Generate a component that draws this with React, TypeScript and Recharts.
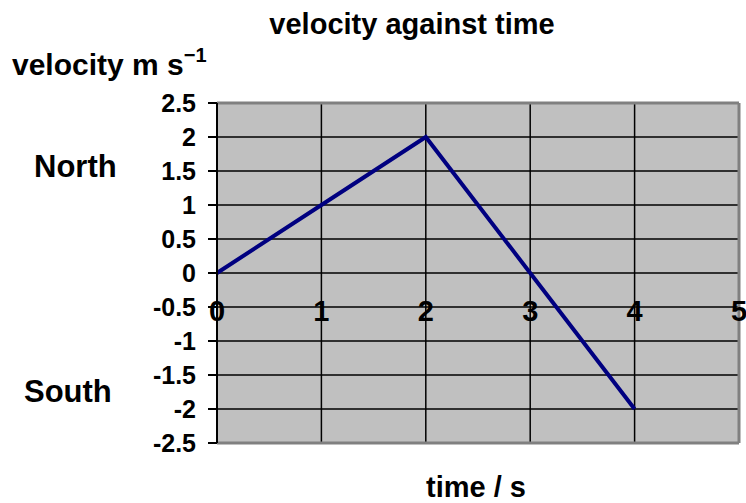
import { LineChart, Line, XAxis, YAxis, CartesianGrid, ReferenceLine } from 'recharts';

const times = [0, 1, 2, 3, 4];
const velocities = [0, 1, 2, 0, -2];
const xTicks = [0, 1, 2, 3, 4, 5];
const yTicks = [2.5, 2, 1.5, 1, 0.5, 0, -0.5, -1, -1.5, -2, -2.5];

const data = times.map((t, i) => ({ t, v: velocities[i] }));

const FONT = '"Liberation Sans", Arial, sans-serif';

// x labels sit just under the v = 0 line, not at the bottom of the plot
const XTick = ({ x, y, payload }: any) => (
  <text x={x} y={y - 122} textAnchor="middle" fontFamily={FONT} fontWeight="bold" fontSize={29} fill="#000">
    {payload.value}
  </text>
);

export default function App() {
  return (
    <div style={{ position: 'absolute', left: 0, top: 0, width: 746, height: 503, background: '#fff' }}>
      <LineChart width={746} height={503} data={data} margin={{ top: 103, right: 7, bottom: 0, left: 0 }}>
        <CartesianGrid stroke="#000" strokeWidth={1.5} fill="#c0c0c0" fillOpacity={1} />
        <XAxis
          type="number"
          dataKey="t"
          domain={[0, 5]}
          ticks={xTicks}
          height={60}
          axisLine={false}
          tickLine={false}
          tickSize={0}
          tickMargin={0}
          tick={<XTick />}
          interval={0}
        />
        <YAxis
          type="number"
          domain={[-2.5, 2.5]}
          ticks={yTicks}
          width={217}
          interval={0}
          axisLine={{ stroke: '#000', strokeWidth: 2 }}
          tickLine={{ stroke: '#000', strokeWidth: 2 }}
          tickSize={9}
          tickMargin={12}
          tick={{ fontFamily: FONT, fontWeight: 'bold', fontSize: 25, fill: '#000' }}
        />
        <ReferenceLine y={2.5} stroke="#808080" strokeWidth={3} />
        <ReferenceLine y={-2.5} stroke="#808080" strokeWidth={3} />
        <ReferenceLine x={5} stroke="#808080" strokeWidth={3} />
        <Line type="linear" dataKey="v" stroke="#000080" strokeWidth={4} dot={false} isAnimationActive={false} />
      </LineChart>
      <svg width={746} height={503} style={{ position: 'absolute', left: 0, top: 0, pointerEvents: 'none' }}>
        <g fontFamily={FONT} fontWeight="bold" fill="#000">
          <text x={412} y={34} textAnchor="middle" fontSize={29}>velocity against time</text>
          <text x={12} y={75} fontSize={30}>
            velocity m s<tspan fontSize={20} dy={-13}>−1</tspan>
          </text>
          <text x={34} y={177} fontSize={31}>North</text>
          <text x={24} y={402} fontSize={31}>South</text>
          <text x={476} y={497} textAnchor="middle" fontSize={29}>time / s</text>
        </g>
      </svg>
    </div>
  );
}
